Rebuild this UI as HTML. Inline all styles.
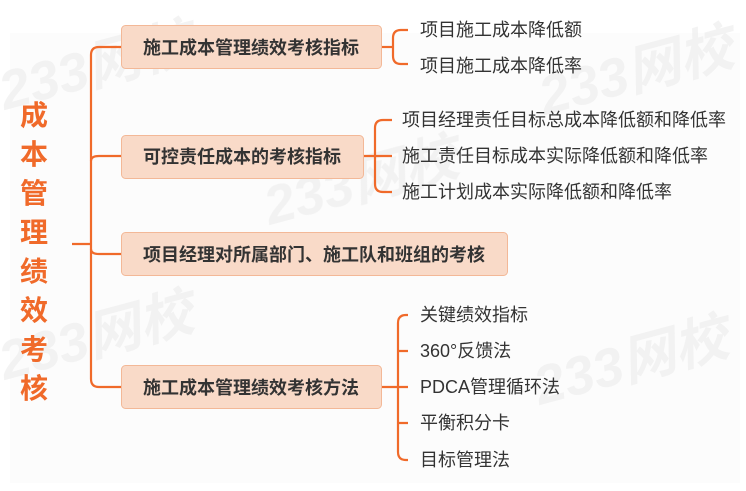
<!DOCTYPE html>
<html><head><meta charset="utf-8"><style>
html,body{margin:0;padding:0;background:#fff;}
svg{display:block;font-family:"Liberation Sans","Noto Sans CJK SC",sans-serif;}
</style></head><body>
<svg width="746" height="491" viewBox="0 0 746 491">
<rect x="10" y="33" width="730" height="450" fill="#fcfcfc"/>
<g fill="#ececec" font-weight="bold" font-style="italic" opacity="0.6">
<text x="5" y="110" font-size="54" transform="rotate(-15 5 110)">233网校</text>
<text x="270" y="225" font-size="54" transform="rotate(-15 270 225)">233网校</text>
<text x="5" y="380" font-size="54" transform="rotate(-15 5 380)">233网校</text>
<text x="540" y="405" font-size="54" transform="rotate(-15 540 405)">233网校</text>
<text x="545" y="115" font-size="54" transform="rotate(-15 545 115)">233网校</text>
</g>
<g fill="none" stroke="#f06a2a" stroke-width="2.2">
<path d="M72 244 H91"/>
<path d="M121 47 H99 Q91 47 91 55 V379 Q91 387 99 387 H121"/>
<path d="M91 161 Q91 156 99 156 H121"/>
<path d="M91 249 Q91 254 99 254 H121"/>
<path d="M381 47 H393"/>
<path d="M408 30 H401 Q393 30 393 38 V56 Q393 64 401 64 H408"/>
<path d="M363 156 H392"/>
<path d="M392 120 H383 Q375 120 375 128 V184 Q375 192 383 192 H392"/>
<path d="M381 387 H408"/>
<path d="M408 315 H406 Q398 315 398 323 V452 Q398 460 406 460 H408"/>
<path d="M398 351 H408 M398 423 H408"/>
</g>
<g fill="#f9dac8" stroke="#f3b897" stroke-width="1">
<rect x="121.5" y="25.5" width="260" height="43" rx="4"/>
<rect x="121.5" y="135.5" width="242" height="43" rx="4"/>
<rect x="121.5" y="232.5" width="386" height="43" rx="4"/>
<rect x="121.5" y="365.5" width="260" height="43" rx="4"/>
</g>
<g fill="#333" font-weight="bold" font-size="18">
<text x="143" y="54">施工成本管理绩效考核指标</text>
<text x="143" y="163">可控责任成本的考核指标</text>
<text x="143" y="261">项目经理对所属部门、施工队和班组的考核</text>
<text x="143" y="394">施工成本管理绩效考核方法</text>
</g>
<g fill="#333" font-size="18">
<text x="420" y="36">项目施工成本降低额</text>
<text x="420" y="72">项目施工成本降低率</text>
<text x="402" y="126">项目经理责任目标总成本降低额和降低率</text>
<text x="402" y="162">施工责任目标成本实际降低额和降低率</text>
<text x="402" y="198">施工计划成本实际降低额和降低率</text>
<text x="420" y="321">关键绩效指标</text>
<text x="420" y="357">360°反馈法</text>
<text x="420" y="393">PDCA管理循环法</text>
<text x="420" y="429">平衡积分卡</text>
<text x="420" y="466">目标管理法</text>
</g>
<g fill="#f06a2a" font-weight="bold" font-size="28" text-anchor="middle">
<text x="34" y="125">成</text>
<text x="34" y="164">本</text>
<text x="34" y="203">管</text>
<text x="34" y="242">理</text>
<text x="34" y="281">绩</text>
<text x="34" y="320">效</text>
<text x="34" y="359">考</text>
<text x="34" y="398">核</text>
</g>
</svg>
</body></html>
